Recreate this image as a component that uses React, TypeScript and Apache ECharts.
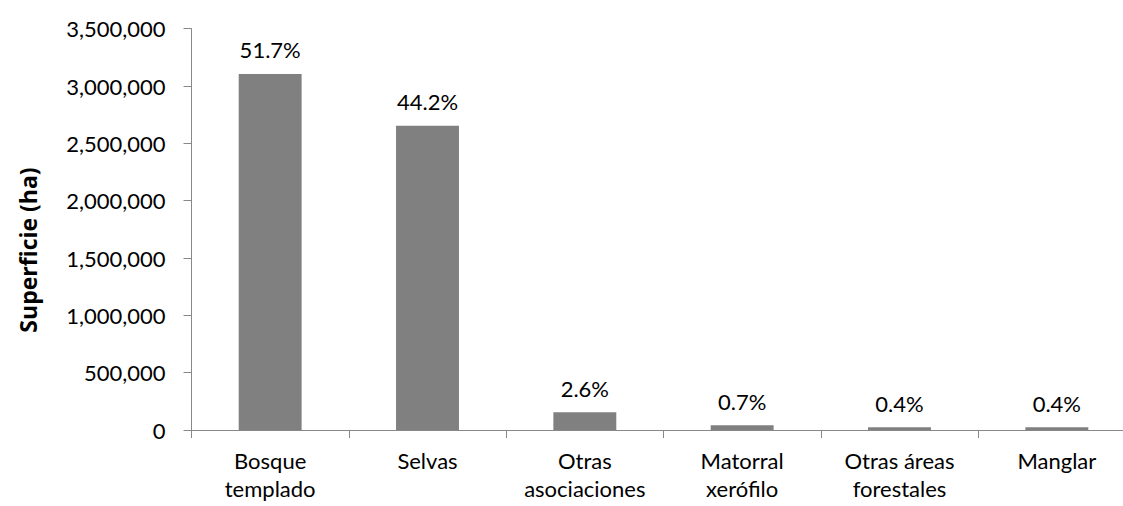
import React, { useEffect, useRef } from "react";
import * as echarts from "echarts";

const categories = [
  "Bosque\ntemplado",
  "Selvas",
  "Otras\nasociaciones",
  "Matorral\nxerófilo",
  "Otras áreas\nforestales",
  "Manglar",
];
const surfaceHa = [3105000, 2654000, 155000, 41000, 25000, 24000];
const percentLabels = ["51.7%", "44.2%", "2.6%", "0.7%", "0.4%", "0.4%"];
const yAxisName = "Superficie (ha)";

const FONT = "Lato, 'Open Sans', sans-serif";

export default function App() {
  const ref = useRef<HTMLDivElement>(null);
  useEffect(() => {
    if (!ref.current) return;
    const chart = echarts.init(ref.current, undefined, { renderer: "svg" });
    chart.setOption({
      animation: false,
      backgroundColor: "#ffffff",
      textStyle: { fontFamily: FONT },
      grid: {
        left: 191.5,
        top: 28.7,
        bottom: 76,
        width: 944,
        containLabel: false,
        outerBoundsMode: "none",
      },
      graphic: [
        {
          type: "text",
          x: 28,
          y: 250,
          rotation: Math.PI / 2,
          style: {
            text: yAxisName,
            fontFamily: "'Open Sans', Lato, sans-serif",
            fontSize: 23,
            fontWeight: "bold",
            fill: "#000",
            align: "center",
            verticalAlign: "middle",
          },
        },
      ],
      xAxis: {
        type: "category",
        data: categories,
        boundaryGap: true,
        axisLine: { lineStyle: { color: "#888888", width: 1 } },
        axisTick: { show: true, length: 8, alignWithLabel: false, lineStyle: { color: "#888888" } },
        axisLabel: {
          color: "#000",
          fontSize: 22,
          fontFamily: FONT,
          lineHeight: 28,
          margin: 16,
          interval: 0,
        },
      },
      yAxis: {
        type: "value",
        min: 0,
        max: 3500000,
        interval: 500000,
        axisLine: { show: true, lineStyle: { color: "#888888", width: 1 } },
        axisTick: { show: true, length: 8, lineStyle: { color: "#888888" } },
        splitLine: { show: false },
        axisLabel: {
          color: "#000",
          fontSize: 22,
          fontFamily: FONT,
          margin: 26,
          formatter: (v: number) => v.toLocaleString("en-US"),
        },
      },
      series: [
        {
          type: "bar",
          data: surfaceHa,
          barWidth: "40%",
          itemStyle: { color: "#808080" },
          label: {
            show: true,
            position: "top",
            distance: 13,
            color: "#000",
            fontSize: 22,
            fontFamily: FONT,
            formatter: (p: any) => percentLabels[p.dataIndex],
          },
        },
      ],
    });
    return () => chart.dispose();
  }, []);
  return (
    <div
      ref={ref}
      style={{ position: "absolute", left: 0, top: 0, width: 1123, height: 506 }}
    />
  );
}
